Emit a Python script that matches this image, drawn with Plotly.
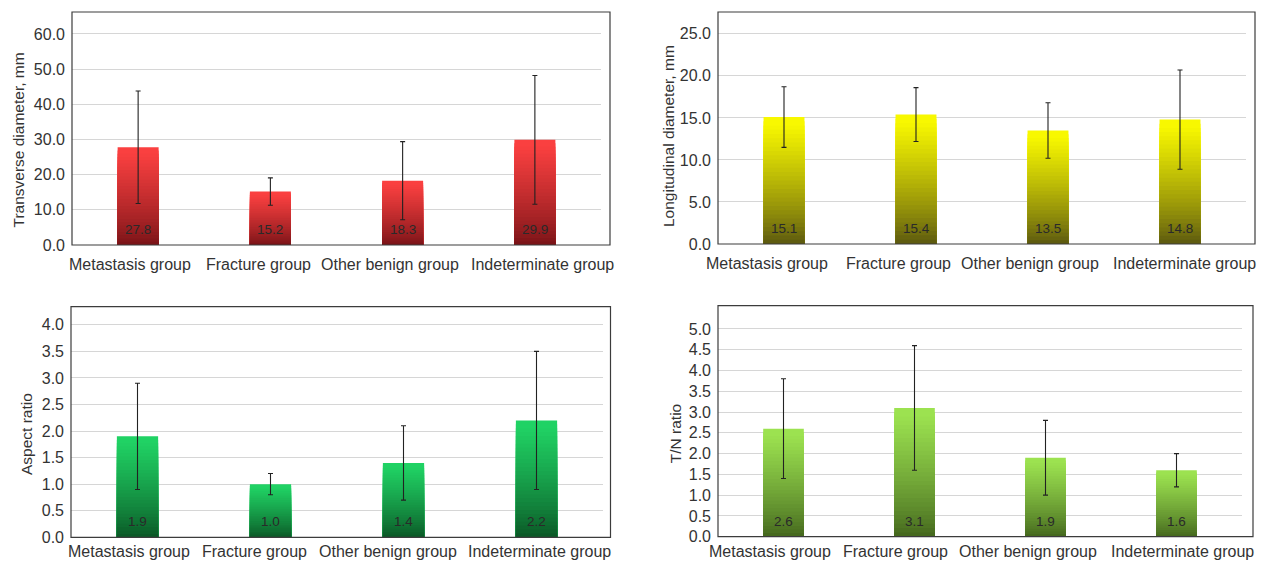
import plotly.graph_objects as go

# page body has an 8px margin: figure origin sits at (8, 8) in the window
OFF = 8
W, H = 1266 - OFF, 561 - OFF

groups = ["Metastasis group", "Fracture group", "Other benign group", "Indeterminate group"]

transverse_mean = [27.8, 15.2, 18.3, 29.9]
transverse_sd = [16.0, 3.9, 11.1, 18.3]
transverse_ticks = [0, 10, 20, 30, 40, 50, 60]

longitudinal_mean = [15.1, 15.4, 13.5, 14.8]
longitudinal_sd = [3.6, 3.2, 3.3, 5.9]
longitudinal_ticks = [0, 5, 10, 15, 20, 25]

aspect_mean = [1.9, 1.0, 1.4, 2.2]
aspect_sd = [1.0, 0.2, 0.7, 1.3]
aspect_ticks = [0, 0.5, 1.0, 1.5, 2.0, 2.5, 3.0, 3.5, 4.0]

tn_mean = [2.6, 3.1, 1.9, 1.6]
tn_sd = [1.2, 1.5, 0.9, 0.4]
tn_ticks = [0, 0.5, 1.0, 1.5, 2.0, 2.5, 3.0, 3.5, 4.0, 4.5, 5.0]

FONT = "Liberation Sans, Arial, Helvetica, sans-serif"

# (means, sds, title, ymax, ticks, window-pixel box [left, right_grid, right_frame, top, bottom],
#  top color, bottom color, category-label x shifts, category-label y shift, title (dx, dy))
panels = [
    (transverse_mean, transverse_sd, "Transverse diameter, mm", 66.25, transverse_ticks,
     (72, 601, 610, 12, 245), (250, 64, 64), (118, 18, 22), [-8, -12, -13, 8], -19.5, (-54, -12)),
    (longitudinal_mean, longitudinal_sd, "Longitudinal diameter, mm", 27.6, longitudinal_ticks,
     (718, 1246, 1255, 12, 244), (248, 248, 0), (88, 84, 16), [-17, -18, -18, 4], -19.5, (-50, -8)),
    (aspect_mean, aspect_sd, "Aspect ratio", 4.34, aspect_ticks,
     (71, 603, 610.5, 306.7, 537.3), (32, 210, 100), (10, 84, 36), [-9, -16, -16, 3], -14.5, (-44, -12)),
    (tn_mean, tn_sd, "T/N ratio", 5.56, tn_ticks,
     (718, 1242, 1253, 305.7, 536.7), (156, 226, 80), (66, 100, 28), [-14, -19, -18, 6], -15, (-43, -13)),
]

N = 30
fig = go.Figure()
layout = dict(
    width=W, height=H, margin=dict(l=0, r=0, t=0, b=0, autoexpand=False),
    paper_bgcolor="white", plot_bgcolor="white",
    barmode="overlay", showlegend=False,
    font=dict(family=FONT, color="#333333"),
    shapes=[], annotations=[],
)


def lerp(c0, c1, t):
    return "rgb(%d,%d,%d)" % tuple(round(a + (b - a) * t) for a, b in zip(c0, c1))


for i, (means, sds, title, ymax, ticks, box, ctop, cbot, lshift, lyshift, tpos) in enumerate(panels):
    idx = "" if i == 0 else str(i + 1)
    xa, ya = "x" + idx, "y" + idx
    left, rgrid, rframe, top, bottom = box
    for k in range(N):
        frac_h = (N - k) / N
        f = (N - k - 0.5) / N
        t = min(1.0, f ** 0.8 * 1.05)
        fig.add_trace(go.Bar(
            x=groups, y=[m * frac_h for m in means], width=0.31,
            marker=dict(color=lerp(cbot, ctop, t), line=dict(width=0)),
            hoverinfo="skip", xaxis=xa, yaxis=ya,
        ))
    fig.add_trace(go.Scatter(
        x=groups, y=means, mode="markers",
        marker=dict(size=1, color="rgba(0,0,0,0)"),
        error_y=dict(type="data", array=sds, visible=True, color="#222222",
                     thickness=1.1, width=2.5),
        xaxis=xa, yaxis=ya,
    ))
    for g, m in zip(groups, means):
        layout["annotations"].append(dict(
            x=g, y=0, xref=xa, yref=ya, text="%.1f" % m, showarrow=False,
            yanchor="bottom", yshift=6,
            font=dict(size=13.5, color="#2a2a2a", family=FONT),
        ))
    for g, s in zip(groups, lshift):
        layout["annotations"].append(dict(
            x=g, y=0, xref=xa, yref=ya, text=g, showarrow=False,
            yanchor="middle", xanchor="center", xshift=s, yshift=lyshift,
            font=dict(size=16, color="#333333", family=FONT),
        ))
    layout["annotations"].append(dict(
        x=0, y=0.5, xref=xa + " domain", yref=ya + " domain", text=title,
        showarrow=False, textangle=-90, xanchor="center", yanchor="middle",
        xshift=tpos[0], yshift=tpos[1],
        font=dict(size=15.5, color="#333333", family=FONT),
    ))
    xdom = [(left - OFF) / W, (rgrid - OFF) / W]
    ydom = [(H + OFF - bottom) / H, (H + OFF - top) / H]
    layout["xaxis" + idx] = dict(
        domain=xdom, range=[-0.5, 3.5], anchor=ya, showgrid=False,
        showline=False, ticks="", showticklabels=False, automargin=False,
        fixedrange=True,
    )
    layout["yaxis" + idx] = dict(
        domain=ydom, range=[0, ymax], anchor=xa, tickmode="array",
        tickvals=ticks, ticktext=["%.1f" % v for v in ticks],
        showgrid=True, gridcolor="#d6d6d6", gridwidth=1,
        zeroline=False, showline=False, ticks="", automargin=False,
        tickfont=dict(size=16, color="#333333"), ticklabelstandoff=6,
        fixedrange=True,
    )
    x1 = (rframe - left) / (rgrid - left)
    layout["shapes"].append(dict(
        type="rect", xref=xa + " domain", yref=ya + " domain",
        x0=0, x1=x1, y0=0, y1=1, line=dict(color="#3c3c3c", width=1.2),
        fillcolor="rgba(0,0,0,0)", layer="above",
    ))

fig.update_layout(**layout)
fig.write_html("out.html")
